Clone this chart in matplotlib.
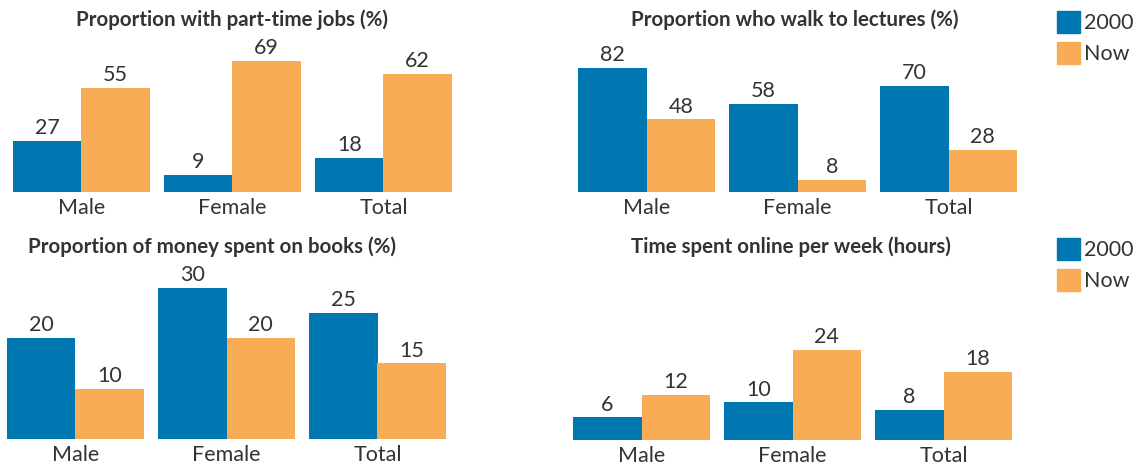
import numpy as np
import matplotlib
matplotlib.use("Agg")
import matplotlib.pyplot as plt
from matplotlib.patches import Patch

plt.rcParams['font.family'] = ['Lato', 'DejaVu Sans']

# data
categories = ["Male", "Female", "Total"]
series_names = ["2000", "Now"]

jobs_2000 = [27, 9, 18]
jobs_now = [55, 69, 62]

walk_2000 = [82, 58, 70]
walk_now = [48, 8, 28]

books_2000 = [20, 30, 25]
books_now = [10, 20, 15]

online_2000 = [6, 10, 8]
online_now = [12, 24, 18]

titles = ["Proportion with part-time jobs (%)",
          "Proportion who walk to lectures (%)",
          "Proportion of money spent on books (%)",
          "Time spent online per week (hours)"]

BLUE = "#0077b0"
ORANGE = "#f8ac55"
TXT = "#333333"

W, H = 1140, 471
fig = plt.figure(figsize=(W / 100, H / 100), dpi=100)

# layout in pixels: left edge, baseline, px per unit, title centre x, title y
panels = [
    (jobs_2000, jobs_now, 13, 192, 1.90, 232, 20),
    (walk_2000, walk_now, 578, 192, 1.515, 795, 20),
    (books_2000, books_now, 7, 439, 5.04, 212, 247),
    (online_2000, online_now, 573, 440, 3.77, 791, 247),
]

bw = 68.5 / 151  # bar width relative to group spacing
ax_w = 151 * (2 + 2 * bw)
ax_h = 160

x = np.arange(len(categories))
for (a, b, left, base, scale, tx, ty), title in zip(panels, titles):
    ax = fig.add_axes([left / W, (H - base) / H, ax_w / W, ax_h / H])
    r1 = ax.bar(x - bw / 2, a, bw, color=BLUE)
    r2 = ax.bar(x + bw / 2, b, bw, color=ORANGE)
    ax.bar_label(r1, padding=2, fontsize=15.5, color=TXT)
    ax.bar_label(r2, padding=2, fontsize=15.5, color=TXT)
    ax.set_xlim(-bw, 2 + bw)
    ax.set_ylim(0, ax_h / scale)
    ax.set_xticks(x, categories)
    ax.tick_params(axis="x", length=0, pad=4, labelsize=15.5, labelcolor=TXT)
    ax.set_yticks([])
    for s in ax.spines.values():
        s.set_visible(False)
    ax.patch.set_alpha(0)
    fig.text(tx / W, 1 - ty / H, title, ha="center", va="center",
             fontsize=14.8, fontweight="bold", color=TXT)

handles = [Patch(color=BLUE, label=series_names[0]),
           Patch(color=ORANGE, label=series_names[1])]
for ly in (11, 238):
    fig.legend(handles=handles, loc="upper left",
               bbox_to_anchor=(1057 / W, 1 - ly / H), frameon=False,
               fontsize=15.5, labelcolor=TXT, handlelength=1.05,
               handleheight=1.2, handletextpad=0.2, labelspacing=0.4,
               borderpad=0, borderaxespad=0)

fig.savefig("out.png", dpi=100)
